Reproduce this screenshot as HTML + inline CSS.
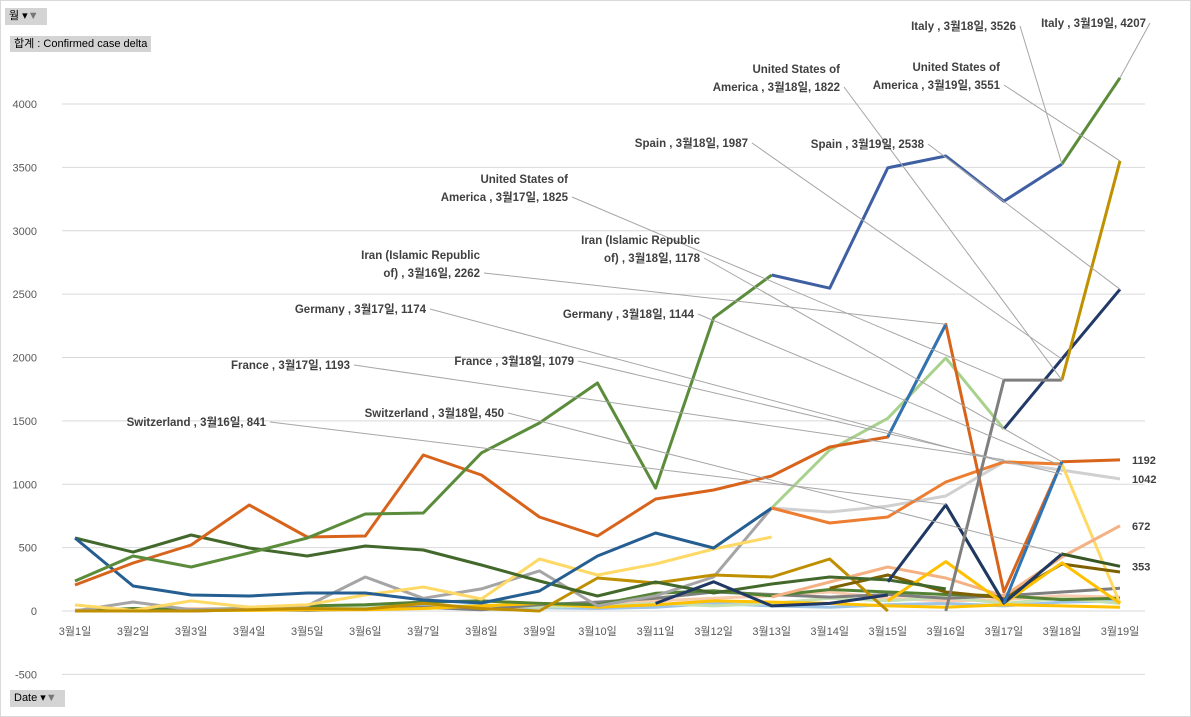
<!DOCTYPE html>
<html><head><meta charset="utf-8"><style>
body{margin:0;background:#fff;width:1191px;height:717px;overflow:hidden;font-family:"Liberation Sans","Noto Sans CJK KR",sans-serif}
#frame{position:absolute;left:0;top:0;width:1189px;height:715px;border:1px solid #d9d9d9}
.btn{position:absolute;background:#d4d4d4;font-size:11px;color:#000;line-height:17px;padding:0 4px}
</style></head><body>
<div id="frame"></div>
<div class="btn" style="left:5px;top:8px;width:34px;height:17px">월 ▾<span style="color:#777">▼</span></div>
<div class="btn" style="left:10px;top:36px;height:16px;line-height:16px">합계 : Confirmed case delta</div>
<div class="btn" style="left:10px;top:690px;width:47px;height:17px">Date ▾<span style="color:#777">▼</span></div>
<svg id="chart" width="1191" height="717" style="position:absolute;left:0;top:0"></svg>
<script>
const categories=["3월1일","3월2일","3월3일","3월4일","3월5일","3월6일","3월7일","3월8일","3월9일","3월10일","3월11일","3월12일","3월13일","3월14일","3월15일","3월16일","3월17일","3월18일","3월19일"];
const yTicks=[-500,0,500,1000,1500,2000,2500,3000,3500,4000];
const N=null;
const sLow1=[0,5,10,20,15,20,40,30,25,20,30,60,40,30,50,60,40,70,80];
const sLow2=[10,0,20,15,30,25,60,20,40,50,80,100,120,150,100,80,90,120,110];
const sLow3=[0,10,5,30,20,40,20,50,30,40,60,40,60,100,80,110,60,100,60];
const sLow4=[0,0,0,10,5,15,30,10,50,70,100,150,130,110,130,100,120,150,180];
const sLow5=[0,0,5,5,10,10,20,40,60,30,50,80,70,60,40,30,50,40,30];
const sLow6=[0,20,10,20,40,50,70,80,60,50,140,160,120,170,150,130,120,90,100];
const sGray=[0,71,10,20,40,268,100,174,316,40,120,268,813,N,N,N,N,N,N];
const sYellow=[47,5,80,30,50,126,189,95,410,284,371,489,584,N,N,N,N,N,N];
const sLightGray=[N,N,N,N,N,N,N,N,N,N,N,N,813,781,828,907,1176,1112,1042];
const sYellow2=[N,N,N,N,N,N,N,N,N,N,N,N,N,N,N,N,1176,1160,60];
const sGold=[0,0,0,10,20,15,60,20,0,260,221,284,268,410,0,N,N,N,N];
const sOlive=[N,N,N,N,N,N,N,N,N,N,N,N,N,180,284,150,103,371,308];
const sSalmon=[N,N,N,N,N,N,N,N,N,N,N,N,110,229,347,260,118,426,672];
const sGold2=[N,N,N,N,N,N,N,N,N,N,N,N,N,N,80,390,60,380,60];
const sGermany=[576,465,600,497,434,513,481,363,237,118,229,142,213,268,245,174,N,N,N];
const sDarkGreen=[N,N,N,N,N,N,N,N,N,N,N,N,N,N,N,836,63,450,353];
const sNavy=[N,N,N,N,N,N,N,N,N,N,60,230,40,60,126,N,N,N,N];
const sNavy2=[N,N,N,N,N,N,N,N,N,N,N,N,N,N,230,836,63,450,N];
const sSpain=[576,197,126,118,142,142,87,63,158,434,615,497,813,N,N,N,N,N,N];
const sLightGreen=[N,N,N,N,N,N,N,N,N,N,N,N,813,1270,1520,1996,1436,N,N];
const sSpain2=[N,N,N,N,N,N,N,N,N,N,N,N,N,N,N,N,1436,1988,2538];
const sOrange2=[N,N,N,N,N,N,N,N,N,N,N,N,813,694,742,1018,1176,1160,N];
const sIran=[205,379,521,836,584,592,1231,1073,742,592,884,955,1065,1294,1373,2262,150,1178,1192];
const sBlueLt=[N,N,N,N,N,N,N,N,N,N,N,N,N,N,1373,2262,N,N,N];
const sBlueLt2=[N,N,N,N,N,N,N,N,N,N,N,N,N,N,N,N,60,1178,N];
const sUS=[N,N,N,N,N,N,N,N,N,N,N,N,N,N,N,0,1822,1822,N];
const sUS2=[N,N,N,N,N,N,N,N,N,N,N,N,N,N,N,N,N,1822,3551];
const sItaly=[237,434,347,458,576,765,773,1247,1483,1799,970,2313,2651,N,N,N,N,3526,4207];
const sItalyMid=[N,N,N,N,N,N,N,N,N,N,N,N,2651,2547,3497,3590,3233,3526,N];
const series=[
["low-1",sLow1,"#9dc3e6"],["low-2",sLow2,"#f8cbad"],["low-3",sLow3,"#c5e0b4"],["low-4",sLow4,"#7f7f7f"],["low-5",sLow5,"#ffc000"],["low-6",sLow6,"#548235"],
["gray",sGray,"#a5a5a5"],["yellow",sYellow,"#ffd966"],["light-gray",sLightGray,"#d0d0d0"],["yellow-2",sYellow2,"#ffd966"],
["gold",sGold,"#bf8f00"],["olive",sOlive,"#7f6000"],["salmon",sSalmon,"#f4b183"],["gold-2",sGold2,"#ffc000"],
["germany",sGermany,"#43682b"],["dark-green",sDarkGreen,"#375623"],["navy",sNavy,"#1f3864"],["navy-2",sNavy2,"#1f3864"],
["spain",sSpain,"#255e91"],["light-green",sLightGreen,"#a9d18e"],["spain-2",sSpain2,"#223a68"],["orange-2",sOrange2,"#ed7d31"],
["iran",sIran,"#d8641c"],["blue-light",sBlueLt,"#2e75b6"],["blue-light-2",sBlueLt2,"#2e75b6"],
["us",sUS,"#7f7f7f"],["us-2",sUS2,"#bf9000"],["italy",sItaly,"#5b8c3b"],["italy-mid",sItalyMid,"#3f5fa3"]];
const annotations=[
[17,3526,["Italy , 3월18일, 3526"],1016,30,"end"],
[18,4207,["Italy , 3월19일, 4207"],1146,27,"end"],
[17,1822,["United States of","America , 3월18일, 1822"],840,73,"end"],
[18,3551,["United States of","America , 3월19일, 3551"],1000,71,"end"],
[17,1987,["Spain , 3월18일, 1987"],748,147,"end"],
[18,2538,["Spain , 3월19일, 2538"],924,148,"end"],
[16,1825,["United States of","America , 3월17일, 1825"],568,183,"end"],
[15,2262,["Iran (Islamic Republic","of) , 3월16일, 2262"],480,259,"end"],
[17,1178,["Iran (Islamic Republic","of) , 3월18일, 1178"],700,244,"end"],
[16,1174,["Germany , 3월17일, 1174"],426,313,"end"],
[17,1144,["Germany , 3월18일, 1144"],694,318,"end"],
[16,1193,["France , 3월17일, 1193"],350,369,"end"],
[17,1079,["France , 3월18일, 1079"],574,365,"end"],
[15,841,["Switzerland , 3월16일, 841"],266,426,"end"],
[17,450,["Switzerland , 3월18일, 450"],504,417,"end"]];
const endLabels=[1192,1042,672,353];
const X0=75,DX=(1120-75)/18,Y0=611,KY=507/4000;
const xs=i=>X0+i*DX, ys=v=>Y0-v*KY;
const svg=document.getElementById('chart');const NS="http://www.w3.org/2000/svg";
function el(t,a,p){const e=document.createElementNS(NS,t);for(const k in a)e.setAttribute(k,a[k]);(p||svg).appendChild(e);return e;}
yTicks.forEach(v=>{
 const g=el('line',{x1:62,x2:1145,y1:ys(v),y2:ys(v),stroke:'#d9d9d9','stroke-width':1});
 
 
 const t=el('text',{x:37,y:ys(v)+4,'text-anchor':'end','font-size':11,fill:'#595959'});t.textContent=v;
 
 
});
categories.forEach((c,i)=>{const t=el('text',{x:xs(i),y:635,'text-anchor':'middle','font-size':11,fill:'#595959'});t.textContent=c;
 
 });
series.forEach(s=>{
 let d="",pen=false;
 s[1].forEach((v,i)=>{if(v===null){pen=false;return;}d+=(pen?"L":"M")+xs(i).toFixed(1)+","+ys(v).toFixed(1);pen=true;});
 const p=el('path',{d:d,fill:'none',stroke:s[2],'stroke-width':3,'stroke-linejoin':'round'});
 
 
});
annotations.forEach(a=>{
 const lines=a[2];const lx=a[3]+4,ly=a[4]+(lines.length-1)*18-4;
 const l=el('line',{x1:lx,y1:ly,x2:xs(a[0]),y2:ys(a[1]),stroke:'#a6a6a6','stroke-width':1});
 
 
 lines.forEach((s,j)=>{const t=el('text',{x:a[3],y:a[4]+j*18,'text-anchor':a[5],'font-size':11.5,'font-weight':'bold',fill:'#404040'});t.textContent=s;
  
  });
});
endLabels.forEach(v=>{const t=el('text',{x:1132,y:ys(v)+4,'font-size':11,'font-weight':'bold',fill:'#404040'});t.textContent=v;
 
 });
</script>
</body></html>
